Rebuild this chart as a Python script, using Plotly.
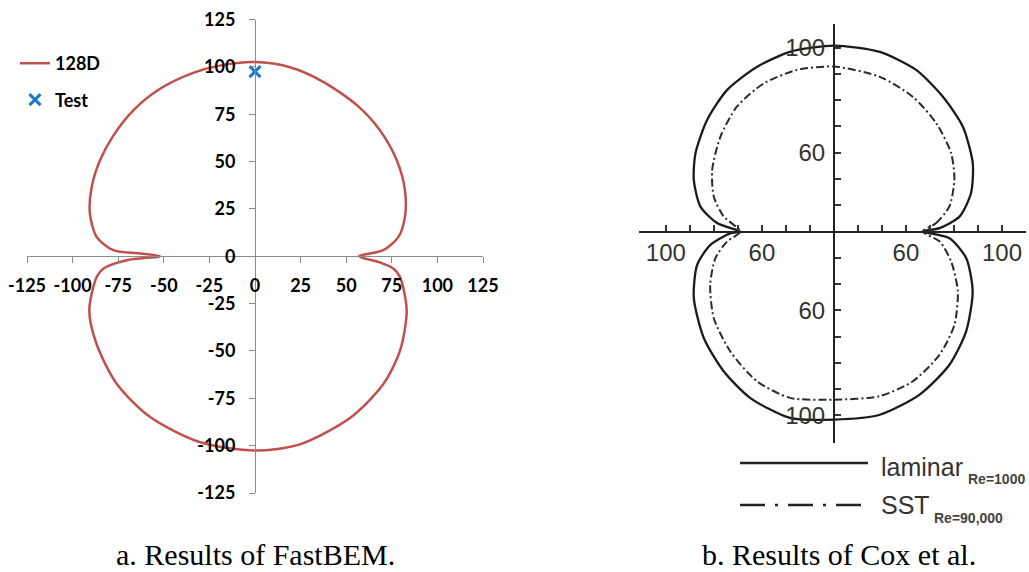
import numpy as np
import plotly.graph_objects as go

W, H = 1029, 572

# ---- (a) FastBEM directivity: angle (deg) and sound pressure level (dB) ----
bem_angle = [0, 2.6, 7.4, 14.2, 23, 33.1, 44.2, 55, 67.9, 79.1, 90, 100.9, 109.3,
             120.5, 130.8, 140.9, 149.2, 157.8, 166, 173.3, 177.6, 178.7, 180,
             181.7, 184.5, 187.2, 197.4, 207.9, 221.6, 235.9, 253, 270, 283.9,
             301.5, 316.2, 328, 341.1, 352.2, 355.1, 357.4, 360]
bem_spl = [57, 70.4, 79.3, 84.8, 89.3, 92.8, 95.5, 97.4, 99.4, 101.6, 102.5, 102.5,
           102.6, 102.6, 101.9, 100.4, 98.9, 96.7, 93.3, 87.4, 77.8, 63, 52,
           70.3, 83.5, 87.5, 95.2, 98.4, 101.4, 102.5, 102.7, 102.6, 102.3,
           100.0, 97.5, 93.8, 87.9, 80.2, 76.1, 68, 57]
test_angle = [90]
test_spl = [97.5]
bem_ticks = [-125, -100, -75, -50, -25, 0, 25, 50, 75, 100, 125]
bem_tick_text = ["-125", "-100", "-75", "-50", "-25", "0", "25", "50", "75", "100", "125"]

# ---- (b) Cox et al.: level (dB) versus angle, radial origin at 30 dB ----
cox_origin = 30
lam_angle = [0, 1.7, 6.2, 14.3, 24.2, 36.6, 48.5, 60.9, 74.4, 90, 105, 117, 129.5,
             141.2, 152.7, 161.4, 170.3, 176.2, 180, 180.8, 185.7, 192.6, 203.4,
             216.8, 229.2, 241.1, 255.5, 270, 285.3, 299.9, 313.5, 325.4, 338.5,
             349.6, 357, 360]
lam_spl = [67, 74, 82.6, 88.9, 93.4, 96.9, 98.5, 100.4, 101, 100.8, 100.8, 100.4,
           99.9, 97.8, 94.9, 91.6, 86.4, 78.8, 69, 73, 81.8, 88.4, 93.6,
           97.7, 100.3, 102.3, 103.3, 101.6, 102.3, 101.6, 99.9, 96.9, 92.1,
           86, 78.2, 67]
sst_angle = [0, 4.3, 11.2, 21.4, 31.4, 44, 57.3, 72, 90, 104.1, 117.4, 130.4,
             142.6, 155.1, 165.1, 172.9, 180, 184.9, 191.6, 201.5, 213.3, 226.5,
             240.6, 253.9, 270, 286.9, 300, 313.2, 324.7, 336.2, 346.9, 355.1, 360]
sst_spl = [67, 72.7, 79, 83.9, 87.2, 89.3, 90.9, 91.9, 92.8, 93.4, 93.5, 92.4,
           89.5, 85.9, 81.8, 76.3, 69, 74.7, 80.4, 85.4, 89.9, 92.8,
           95.4, 95.9, 94, 95.5, 95.8, 94.3, 91.5, 86.4, 80.1, 74.2, 67]
cox_ticks_db = [40, 50, 60, 70, 80, 90, 100]
cox_labelled = {60: "60", 100: "100"}


def to_xy(angle_deg, level, origin=0.0):
    a = np.radians(np.asarray(angle_deg, dtype=float))
    r = np.asarray(level, dtype=float) - origin
    return r * np.cos(a), r * np.sin(a)


def px_x(p):
    return p / W


def px_y(p):
    return 1 - p / H


fig = go.Figure()

bx, by = to_xy(bem_angle, bem_spl)
fig.add_trace(go.Scatter(x=bx, y=by, mode="lines", name="128D",
                         line=dict(color="#C0504D", width=2.5, shape="spline", smoothing=0.8),
                         legendgroup="a", xaxis="x", yaxis="y"))
tx, ty = to_xy(test_angle, test_spl)
fig.add_trace(go.Scatter(x=tx, y=ty, mode="markers", name="Test",
                         marker=dict(symbol="x-thin", size=11, color="#1F77C8",
                                     line=dict(color="#1F77C8", width=3)),
                         legendgroup="b", xaxis="x", yaxis="y"))

lx, ly = to_xy(lam_angle, lam_spl, cox_origin)
fig.add_trace(go.Scatter(x=lx, y=ly, mode="lines", showlegend=False,
                         line=dict(color="#1b1b1b", width=2.3, shape="spline", smoothing=0.7),
                         xaxis="x2", yaxis="y2"))
sx, sy = to_xy(sst_angle, sst_spl, cox_origin)
fig.add_trace(go.Scatter(x=sx, y=sy, mode="lines", showlegend=False,
                         line=dict(color="#2a2a2a", width=2, dash="8px,3px,2px,3px",
                                   shape="spline", smoothing=0.7),
                         xaxis="x2", yaxis="y2"))

bold_font = dict(family="Lato", size=18, color="black", weight="bold")
axis_a = dict(showgrid=False, zeroline=False, showline=True, linecolor="#8c8c8c",
              linewidth=1, ticks="outside", ticklen=6, tickcolor="#8c8c8c",
              tickfont=bold_font, tickvals=bem_ticks, ticktext=bem_tick_text,
              anchor="free", fixedrange=True, automargin=False)

cox_vals = [d - cox_origin for d in cox_ticks_db]
cox_text = [cox_labelled.get(d, "") for d in cox_ticks_db]
x2_vals = [-v for v in cox_vals[::-1]] + cox_vals
x2_text = cox_text[::-1] + cox_text
cox_font = dict(family="Liberation Sans", size=24, color="#333333")
axis_b = dict(showgrid=False, zeroline=False, showline=True, linecolor="#222222",
              linewidth=2, ticks="inside", ticklen=6, tickwidth=1.5, tickcolor="#333333",
              tickfont=cox_font, tickvals=x2_vals, ticktext=x2_text, anchor="free",
              fixedrange=True, automargin=False)

fig.update_layout(
    width=W, height=H, margin=dict(l=0, r=0, t=0, b=0, autoexpand=False),
    paper_bgcolor="white", plot_bgcolor="white",
    xaxis=dict(axis_a, domain=[px_x(27), px_x(483)], range=[-125, 125],
               position=px_y(256), ticklabelstandoff=7),
    yaxis=dict(axis_a, domain=[px_y(493), px_y(19.5)], range=[-125, 125],
               position=px_x(255), ticklabelstandoff=10),
    xaxis2=dict(axis_b, domain=[px_x(639), px_x(1026)], range=[-81.2, 80],
                position=px_y(231.6), ticklabelstandoff=0),
    yaxis2=dict(axis_b, domain=[px_y(443), px_y(24)], range=[-80.5, 79],
                position=px_x(834), ticklabelstandoff=3),
    legend=dict(x=px_x(15), y=px_y(45), xanchor="left", yanchor="top",
                font=bold_font, bgcolor="rgba(0,0,0,0)", tracegroupgap=10,
                itemwidth=30),
    showlegend=True,
)

# legend of panel (b)
fig.add_shape(type="line", xref="paper", yref="paper", x0=px_x(740), x1=px_x(868),
              y0=px_y(463), y1=px_y(463), line=dict(color="#222222", width=2.5))
fig.add_shape(type="line", xref="paper", yref="paper", x0=px_x(740), x1=px_x(868),
              y0=px_y(505), y1=px_y(505),
              line=dict(color="#222222", width=2.5, dash="25px,10px,3px,10px"))

legend_font = dict(family="Liberation Sans", size=25, color="#333333")
sub_font = dict(family="Liberation Sans", size=14, color="#444444", weight="bold")
notes = [
    ("laminar", 879, 467, legend_font),
    ("Re=1000", 966, 479, sub_font),
    ("SST", 879, 505, legend_font),
    ("Re=90,000", 932, 518, sub_font),
]
for text, x, y, f in notes:
    fig.add_annotation(text=text, xref="paper", yref="paper", x=px_x(x), y=px_y(y),
                       xanchor="left", yanchor="middle", showarrow=False, font=f)

caption_font = dict(family="Liberation Serif", size=30, color="black")
fig.add_annotation(text="a. Results of FastBEM.", xref="paper", yref="paper",
                   x=px_x(255), y=px_y(554), xanchor="center", yanchor="middle",
                   showarrow=False, font=caption_font)
fig.add_annotation(text="b. Results of Cox et al.", xref="paper", yref="paper",
                   x=px_x(839), y=px_y(554), xanchor="center", yanchor="middle",
                   showarrow=False, font=caption_font)

fig.write_html("out.html")
